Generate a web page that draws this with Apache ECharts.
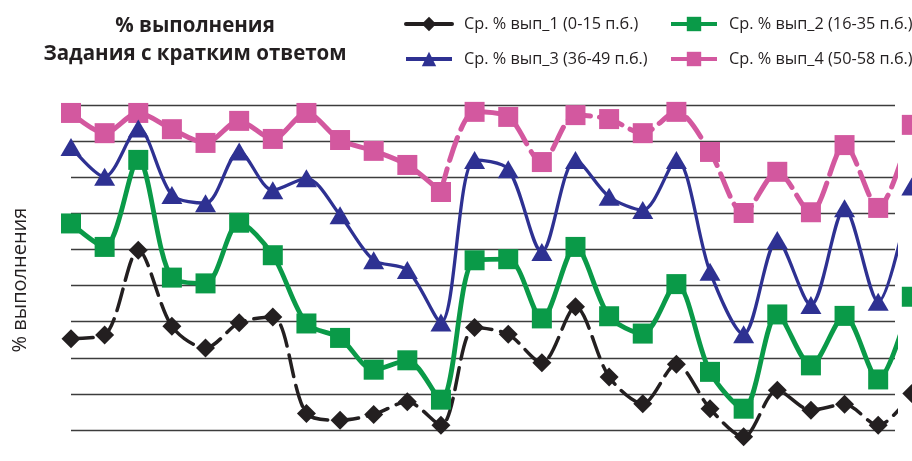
<!DOCTYPE html>
<html>
<head>
<meta charset="utf-8">
<script src="https://cdn.jsdelivr.net/npm/echarts@6/dist/echarts.min.js"></script>
<style>
  html, body { margin: 0; padding: 0; background: #fff; }
  #chart { width: 912px; height: 461px; }
</style>
</head>
<body>
<div id="chart"></div>
<script>
// номера заданий (по оси X)
var tasks = [];
for (var t = 1; t <= 26; t++) tasks.push(t);

// средний % выполнения по группам
var grp1 = [35.3, 36.3, 59.8, 38.7, 32.7, 39.7, 41.3, 14.6, 12.7, 14.3, 17.8, 11.3, 38.4,
            36.5, 28.6, 44.1, 24.7, 17.3, 28.2, 15.9, 8.1, 21.0, 15.5, 17.1, 11.3, 20.1];
var grp2 = [67.2, 60.7, 84.8, 52.2, 50.6, 67.4, 58.4, 39.5, 35.5, 26.7, 29.3, 18.4, 57.0,
            57.3, 40.9, 60.7, 41.5, 36.7, 50.4, 26.1, 15.9, 42.0, 27.9, 41.6, 24.0, 46.9];
var grp3 = [88.4, 80.1, 93.5, 75.1, 72.8, 87.1, 76.4, 79.7, 69.5, 57.0, 54.3, 39.8, 84.8,
            82.2, 59.3, 84.8, 74.6, 70.9, 84.8, 53.8, 36.5, 62.6, 44.6, 71.4, 45.5, 77.4];
var grp4 = [97.8, 92.2, 97.8, 93.3, 89.5, 95.6, 90.6, 97.8, 90.3, 87.3, 83.4, 75.9, 98.1,
            96.7, 84.2, 97.2, 96.1, 92.2, 98.1, 87.0, 70.1, 81.5, 70.3, 88.9, 71.5, 94.5];
// с какого задания линия 4-й группы идёт пунктиром
var grp4DashFrom = 11;

var names = [
  "Ср. % вып_1 (0-15 п.б.)",
  "Ср. % вып_2 (16-35 п.б.)",
  "Ср. % вып_3 (36-49 п.б.)",
  "Ср. % вып_4 (50-58 п.б.)"
];

function pairs(arr, from, to) {
  from = from || 0;
  to = to === undefined ? arr.length - 1 : to;
  return arr.map(function (v, i) { return [i, (i >= from && i <= to) ? v : null]; })
    .filter(function (p) { return p[1] !== null; });
}

var FONT = "'Open Sans', 'Noto Sans', sans-serif";
var chart = echarts.init(document.getElementById("chart"));

function leg(name, left, top) {
  return {
    data: [name],
    left: left,
    top: top,
    itemWidth: 46,
    itemHeight: 18,
    lineStyle: { type: "solid", width: 4 },
    textStyle: { color: "#231f20", fontSize: 16.3, fontFamily: FONT, padding: [0, 0, 0, 7] }
  };
}

var option = {
  animation: false,
  backgroundColor: "#fff",
  title: {
    text: "% выполнения\nЗадания с кратким ответом",
    left: 190,
    top: 7,
    textAlign: "center",
    textStyle: {
      fontFamily: FONT,
      fontWeight: "bold",
      fontSize: 20.5,
      lineHeight: 28,
      color: "#231f20"
    }
  },
  legend: [
    leg(names[0], 399, 11),
    leg(names[1], 664, 11),
    leg(names[2], 399, 46),
    leg(names[3], 664, 46)
  ],
  graphic: [{
    type: "text",
    x: 20,
    y: 280,
    rotation: Math.PI / 2,
    style: {
      text: "% выполнения",
      fontFamily: FONT,
      fontSize: 20,
      fill: "#231f20",
      align: "center",
      verticalAlign: "middle"
    }
  }],
  grid: { left: 71, right: 17, top: 105, bottom: 31, outerBoundsMode: "none" },
  xAxis: {
    type: "value",
    min: 0,
    max: 24.5,
    show: false
  },
  yAxis: {
    type: "value",
    min: 10,
    max: 100,
    interval: 10,
    axisLine: { show: false },
    axisTick: { show: false },
    axisLabel: { show: false },
    splitLine: { lineStyle: { color: "#3c3c3c", width: 1.3 } }
  },
  series: [
    {
      name: names[0],
      type: "line",
      data: pairs(grp1),
      smooth: 0.3,
      clip: false,
      symbol: "diamond",
      symbolSize: 19,
      color: "#231f20",
      itemStyle: { color: "#231f20" },
      lineStyle: { color: "#231f20", width: 3.5, type: [22, 9], cap: "round" }
    },
    {
      name: names[1],
      type: "line",
      data: pairs(grp2),
      smooth: 0.3,
      clip: false,
      symbol: "rect",
      symbolSize: 20,
      color: "#0a9a48",
      itemStyle: { color: "#0a9a48" },
      lineStyle: { color: "#0a9a48", width: 4.8 }
    },
    {
      name: names[3],
      type: "line",
      data: pairs(grp4, 0, grp4DashFrom),
      smooth: 0.3,
      clip: false,
      symbol: "rect",
      symbolSize: 20,
      color: "#d3589f",
      itemStyle: { color: "#d3589f" },
      lineStyle: { color: "#d3589f", width: 5 }
    },
    {
      name: names[3],
      type: "line",
      data: pairs(grp4, grp4DashFrom),
      smooth: 0.3,
      clip: false,
      symbol: "rect",
      symbolSize: 20,
      color: "#d3589f",
      itemStyle: { color: "#d3589f" },
      lineStyle: { color: "#d3589f", width: 5, type: [24, 9], cap: "round" }
    },
    {
      name: names[2],
      type: "line",
      data: pairs(grp3),
      smooth: 0.3,
      clip: false,
      symbol: "triangle",
      symbolSize: [21, 18],
      color: "#2e3192",
      itemStyle: { color: "#2e3192" },
      lineStyle: { color: "#2e3192", width: 3.3 }
    }
  ]
};

chart.setOption(option);
</script>
</body>
</html>
